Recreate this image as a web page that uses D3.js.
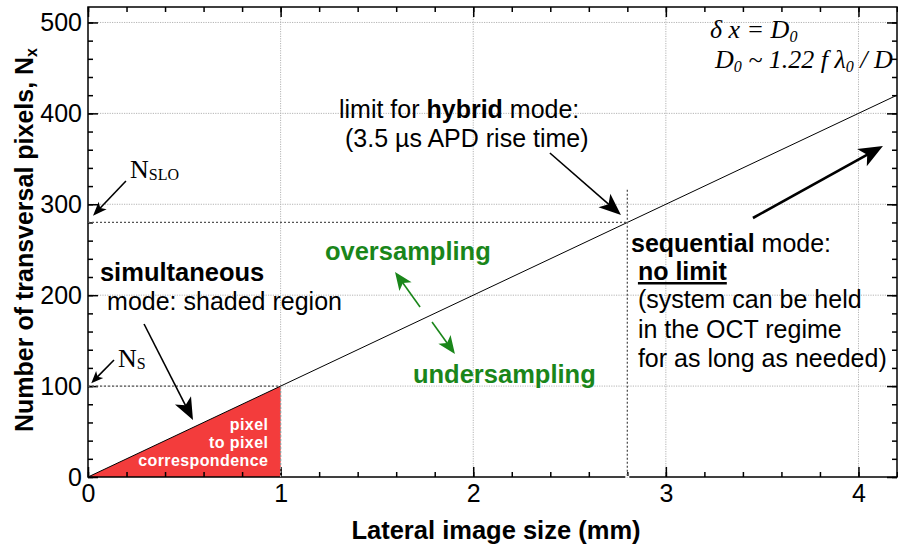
<!DOCTYPE html>
<html>
<head>
<meta charset="utf-8">
<script src="https://cdn.jsdelivr.net/npm/d3@7"></script>
<style>
  body { margin: 0; background: #fff; }
  text { font-family: "Liberation Sans", Arial, sans-serif; }
  .serif { font-family: "Liberation Serif", "Times New Roman", serif; }
</style>
</head>
<body>
<svg id="chart" width="898" height="549"></svg>
<script>
// Axis ticks
const xTicks = [0, 1, 2, 3, 4];
const xMinorTicks = d3.range(0, 4.21, 0.2);
const yTicks = [0, 100, 200, 300, 400, 500];
const yMinorTicks = d3.range(0, 517, 20);

// Sampling limit: one pixel per resolution element (N = 100 per mm)
const limitX = [0, 4.2];
const limitN = [0, 420];

// Simultaneous-mode shaded region (pixel to pixel correspondence)
const shadedX = [0, 1, 1];
const shadedN = [0, 100, 0];

// Reference levels
const nSLO = 280;       // SLO pixel count
const xHybrid = 2.8;    // hybrid-mode limit (mm)
const hybridTop = 316;  // extent of the hybrid marker
const nS = 100;         // simultaneous-mode pixel count
const xS = 1;           // simultaneous-mode size (mm)

const svg = d3.select("#chart");
const L = 88, R = 897, T = 7, B = 477;

const x = d3.scaleLinear().domain([0, 4.2]).range([L, R]);
const y = d3.scaleLinear().domain([0, 517]).range([B, T]);

// Grid
const grid = svg.append("g").attr("stroke", "#b4b4b4").attr("stroke-width", 1)
  .attr("stroke-dasharray", "1.2,1.2");
grid.selectAll("line.gx").data(xTicks.filter(d => d > 0)).join("line")
  .attr("x1", d => x(d)).attr("x2", d => x(d)).attr("y1", T).attr("y2", B);
grid.selectAll("line.gy").data(yTicks.filter(d => d > 0)).join("line")
  .attr("x1", L).attr("x2", R).attr("y1", d => y(d)).attr("y2", d => y(d));

// Shaded region
svg.append("path")
  .datum(shadedX.map((d, i) => [d, shadedN[i]]))
  .attr("d", d3.line().x(d => x(d[0])).y(d => y(d[1])).curve(d3.curveLinearClosed))
  .attr("fill", "#f33c3c").attr("stroke", "none");

// Reference dotted lines
const ref = svg.append("g").attr("stroke", "#555").attr("stroke-width", 1.3)
  .attr("stroke-dasharray", "2,2").attr("fill", "none");
ref.append("line").attr("x1", x(0)).attr("x2", x(xHybrid)).attr("y1", y(nSLO)).attr("y2", y(nSLO));
ref.append("line").attr("x1", x(0)).attr("x2", x(xS)).attr("y1", y(nS)).attr("y2", y(nS));
ref.append("line").attr("x1", x(xS)).attr("x2", x(xS)).attr("y1", y(0)).attr("y2", y(nS))
  .attr("stroke", "#999");

// Sampling limit line
svg.append("path")
  .datum(limitX.map((d, i) => [d, limitN[i]]))
  .attr("d", d3.line().x(d => x(d[0])).y(d => y(d[1])))
  .attr("stroke", "#000").attr("stroke-width", 1).attr("fill", "none");

// Axes (inward ticks)
function styleAxis(g) {
  g.select(".domain").remove();
  g.selectAll(".tick line").attr("stroke", "#000").attr("stroke-width", 1.5);
}
const tickFont = g => g.selectAll("text").attr("font-size", 25)
  .attr("font-family", "'Liberation Sans', Arial, sans-serif").attr("fill", "#000");

svg.append("g").attr("transform", `translate(0,${B})`)
  .call(d3.axisBottom(x).tickValues(xMinorTicks).tickSize(-5).tickFormat(""))
  .call(styleAxis);
svg.append("g").attr("transform", `translate(0,${B})`)
  .call(d3.axisBottom(x).tickValues(xTicks).tickSize(-10).tickPadding(7).tickFormat(d3.format("d")))
  .call(styleAxis).call(tickFont);
svg.append("g").attr("transform", `translate(0,${T})`)
  .call(d3.axisTop(x).tickValues(xMinorTicks).tickSize(-5).tickFormat(""))
  .call(styleAxis);
svg.append("g").attr("transform", `translate(0,${T})`)
  .call(d3.axisTop(x).tickValues(xTicks).tickSize(-10).tickFormat(""))
  .call(styleAxis);

svg.append("g").attr("transform", `translate(${L},0)`)
  .call(d3.axisLeft(y).tickValues(yMinorTicks).tickSize(-5).tickFormat(""))
  .call(styleAxis);
svg.append("g").attr("transform", `translate(${L},0)`)
  .call(d3.axisLeft(y).tickValues(yTicks).tickSize(-10).tickPadding(6).tickFormat(d3.format("d")))
  .call(styleAxis).call(tickFont);
svg.append("g").attr("transform", `translate(${R},0)`)
  .call(d3.axisRight(y).tickValues(yMinorTicks).tickSize(-5).tickFormat(""))
  .call(styleAxis);
svg.append("g").attr("transform", `translate(${R},0)`)
  .call(d3.axisRight(y).tickValues(yTicks).tickSize(-10).tickFormat(""))
  .call(styleAxis);

// Frame
svg.append("rect").attr("x", L).attr("y", T).attr("width", R - L).attr("height", B - T)
  .attr("fill", "none").attr("stroke", "#000").attr("stroke-width", 1.5);

// Hybrid-mode marker crossing the bottom axis
svg.append("line").attr("x1", x(xHybrid)).attr("x2", x(xHybrid)).attr("y1", B - 1).attr("y2", B + 1)
  .attr("stroke", "#fff").attr("stroke-width", 4);
ref.raise();
ref.append("line").attr("x1", x(xHybrid)).attr("x2", x(xHybrid)).attr("y1", y(hybridTop)).attr("y2", B + 1);

// Axis titles
svg.append("text").attr("x", 496).attr("y", 539).attr("text-anchor", "middle")
  .attr("font-size", 25.5).attr("font-weight", "bold").text("Lateral image size (mm)");
const yt = svg.append("text").attr("transform", `translate(33,${(T + B) / 2 - 2}) rotate(-90)`)
  .attr("text-anchor", "middle").attr("font-size", 25).attr("font-weight", "bold");
yt.append("tspan").text("Number of transversal pixels, N");
yt.append("tspan").attr("font-size", 16).attr("dy", 4).text("x");

// Arrows
function arrow(g, from, to, opt) {
  const x1 = x(from[0]), y1 = y(from[1]), x2 = x(to[0]), y2 = y(to[1]);
  const dx = x2 - x1, dy = y2 - y1, len = Math.hypot(dx, dy);
  const ux = dx / len, uy = dy / len, nx = -uy, ny = ux;
  const hl = opt.len, hw = opt.wid;
  g.append("line").attr("x1", x1).attr("y1", y1)
    .attr("x2", x2 - ux * hl * 0.7).attr("y2", y2 - uy * hl * 0.7)
    .attr("stroke", opt.color).attr("stroke-width", opt.sw);
  const pts = [
    [x2, y2],
    [x2 - ux * hl + nx * hw, y2 - uy * hl + ny * hw],
    [x2 - ux * hl * 0.75, y2 - uy * hl * 0.75],
    [x2 - ux * hl - nx * hw, y2 - uy * hl - ny * hw]
  ];
  g.append("polygon").attr("points", pts.map(p => p.join(",")).join(" ")).attr("fill", opt.color);
}
const ag = svg.append("g");
const green = "#1a861a";
arrow(ag, [0.197, 325.6], [0.026, 287.5], { len: 14, wid: 5.5, sw: 1.6, color: "#000" });
arrow(ag, [0.135, 128.7], [0.017, 103.2], { len: 12, wid: 5, sw: 1.6, color: "#000" });
arrow(ag, [0.291, 168.3], [0.545, 62.7], { len: 22, wid: 9, sw: 1.6, color: "#000" });
arrow(ag, [2.398, 356.4], [2.767, 288.2], { len: 22, wid: 9, sw: 1.6, color: "#000" });
arrow(ag, [1.724, 187.0], [1.594, 225.5], { len: 18, wid: 7.5, sw: 1.6, color: green });
arrow(ag, [1.786, 170.5], [1.905, 135.3], { len: 18, wid: 7.5, sw: 1.6, color: green });
arrow(ag, [3.452, 284.9], [4.127, 364.1], { len: 24, wid: 10, sw: 2.6, color: "#000" });

// Annotation text
function label(px, py, opts = {}) {
  return svg.append("text").attr("x", x(px)).attr("y", y(py))
    .attr("font-size", opts.size || 25)
    .attr("fill", opts.color || "#000")
    .attr("text-anchor", opts.anchor || "start")
    .attr("font-weight", opts.weight || "normal");
}

// Formula
const f1 = label(3.229, 482.9, { size: 26 }).attr("class", "serif").attr("font-style", "italic");
f1.append("tspan").text("\u03B4 x = D");
f1.append("tspan").attr("font-size", 16).attr("dy", 4).text("0");
const f2 = label(3.255, 449.9, { size: 26 }).attr("class", "serif").attr("font-style", "italic");
f2.append("tspan").text("D");
f2.append("tspan").attr("font-size", 16).attr("dy", 4).text("0");
f2.append("tspan").attr("dy", -4).text(" ~ 1.22 f \u03BB");
f2.append("tspan").attr("font-size", 16).attr("dy", 4).text("0");
f2.append("tspan").attr("dy", -4).text(" / D");

// Hybrid mode
const h1 = label(1.303, 394.9);
h1.append("tspan").text("limit for ");
h1.append("tspan").attr("font-weight", "bold").text("hybrid");
h1.append("tspan").text(" mode:");
label(1.334, 363).text("(3.5 \u00B5s APD rise time)");

// Simultaneous mode
label(0.062, 215.6, { weight: "bold", size: 25.5 }).text("simultaneous");
label(0.099, 183.7).text("mode: shaded region");

// Sampling regimes
label(1.230, 238.7, { weight: "bold", color: green, size: 25.5 }).text("oversampling");
label(1.687, 103.4, { weight: "bold", color: green, size: 25.5 }).text("undersampling");

// Sequential mode
const s1 = label(2.819, 247.5);
s1.append("tspan").attr("font-weight", "bold").text("sequential");
s1.append("tspan").text(" mode:");
label(2.855, 216.7, { weight: "bold" }).attr("text-decoration", "underline").text("no limit");
label(2.855, 185.9).text("(system can be held");
label(2.855, 152.9).text("in the OCT regime");
label(2.855, 121.0).text("for as long as needed)");

// Pixel count labels
const nslo = label(0.218, 328.9, { size: 26 }).attr("class", "serif");
nslo.append("tspan").text("N");
nslo.append("tspan").attr("font-size", 16).attr("dy", 2).text("SLO");
const ns = label(0.156, 121.0, { size: 26 }).attr("class", "serif");
ns.append("tspan").text("N");
ns.append("tspan").attr("font-size", 16).attr("dy", 2).text("S");

// Shaded region label
[["pixel", 51.7], ["to pixel", 31.9], ["correspondence", 12.1]].forEach(([t, v]) => {
  label(0.936, v, { size: 16, weight: "bold", color: "#fff", anchor: "end" })
    .attr("letter-spacing", 0.4).text(t);
});
</script>
</body>
</html>
